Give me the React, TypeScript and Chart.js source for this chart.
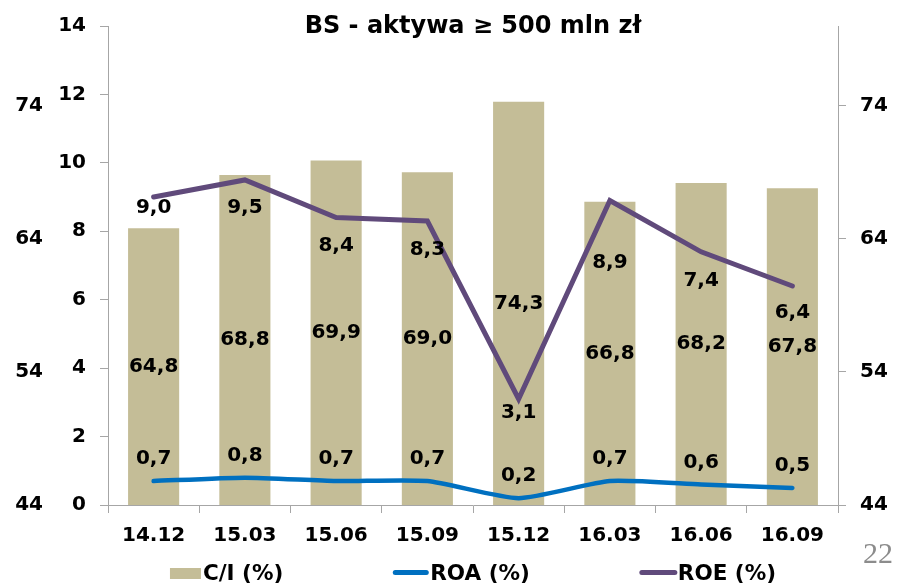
import React, { useEffect, useRef } from 'react';
import { Chart, registerables } from 'chart.js';

Chart.register(...registerables);

// ---- data ----
const categories = ['14.12', '15.03', '15.06', '15.09', '15.12', '16.03', '16.06', '16.09'];
const ciValues = [64.8, 68.8, 69.9, 69.0, 74.3, 66.8, 68.2, 67.8];
const roaValues = [0.7, 0.8, 0.7, 0.7, 0.2, 0.7, 0.6, 0.5];
const roeValues = [9.0, 9.5, 8.4, 8.3, 3.1, 8.9, 7.4, 6.4];
const leftTicks = [0, 2, 4, 6, 8, 10, 12, 14];
const ciTicks = [44, 54, 64, 74];
const seriesLabels = ['C/I (%)', 'ROA (%)', 'ROE (%)'];
const titleText = 'BS - aktywa \u2265 500 mln z\u0142';
const pageNumber = '22';

// ---- style ----
const FONT = '"DejaVu Sans", Verdana, sans-serif';
const BAR_COLOR = '#C4BD97';
const ROA_COLOR = '#0070C0';
const ROE_COLOR = '#604A7B';
const AXIS_COLOR = '#A6A6A6';
// vertical nudges of the ROE value labels below their points (px)
const roeLabelDy = [11, 28, 28, 29, 14, 62, 29, 27];
const roaLabelDy = -22;

const fmt = (v: number) => v.toFixed(1).replace('.', ',');

const overlayPlugin = {
  id: 'overlay',
  afterDatasetsDraw(chart: any) {
    const ctx = chart.ctx;
    ctx.save();
    ctx.fillStyle = '#000';
    ctx.textAlign = 'center';
    ctx.textBaseline = 'middle';
    ctx.font = `bold 20px ${FONT}`;
    const ciScale = chart.scales.yCI;
    const barMeta = chart.getDatasetMeta(0);
    barMeta.data.forEach((el: any, i: number) => {
      const top = ciScale.getPixelForValue(ciValues[i]);
      const base = ciScale.getPixelForValue(ciScale.min);
      ctx.fillText(fmt(ciValues[i]), el.x, (top + base) / 2);
    });
    const roaMeta = chart.getDatasetMeta(1);
    roaMeta.data.forEach((el: any, i: number) => {
      ctx.fillText(fmt(roaValues[i]), el.x, el.y + roaLabelDy);
    });
    const roeMeta = chart.getDatasetMeta(2);
    roeMeta.data.forEach((el: any, i: number) => {
      ctx.fillText(fmt(roeValues[i]), el.x, el.y + roeLabelDy[i]);
    });
    ctx.restore();
  },
  afterDraw(chart: any) {
    const ctx = chart.ctx;
    const area = chart.chartArea;
    const cx = (area.left + area.right) / 2;
    ctx.save();
    // title
    ctx.fillStyle = '#000';
    ctx.font = `bold 24px ${FONT}`;
    ctx.textAlign = 'center';
    ctx.textBaseline = 'alphabetic';
    ctx.fillText(titleText, cx, 33);

    // legend
    ctx.font = `bold 21.5px ${FONT}`;
    ctx.textAlign = 'left';
    const baseY = 580;
    const items = [
      { kind: 'box', color: BAR_COLOR, sw: 31, gap: 2 },
      { kind: 'line', color: ROA_COLOR, sw: 35, gap: 2 },
      { kind: 'line', color: ROE_COLOR, sw: 37, gap: 1 },
    ];
    const spacing = 110;
    const widths = items.map((it, i) => it.sw + it.gap + ctx.measureText(seriesLabels[i]).width);
    const total = widths.reduce((a, b) => a + b, 0) + spacing * (items.length - 1);
    let x = cx - total / 2;
    items.forEach((it, i) => {
      if (it.kind === 'box') {
        ctx.fillStyle = it.color;
        ctx.fillRect(x, 568, it.sw, 11);
      } else {
        ctx.strokeStyle = it.color;
        ctx.lineWidth = 5;
        ctx.lineCap = 'round';
        ctx.beginPath();
        ctx.moveTo(x + 2, 572.5);
        ctx.lineTo(x + it.sw - 2, 572.5);
        ctx.stroke();
      }
      ctx.fillStyle = '#000';
      ctx.fillText(seriesLabels[i], x + it.sw + it.gap, baseY);
      x += widths[i] + spacing;
    });

    // page number
    ctx.font = `30px "Liberation Serif", "DejaVu Serif", serif`;
    ctx.fillStyle = '#8C8C8C';
    ctx.textAlign = 'right';
    ctx.fillText(pageNumber, 893, 563);
    ctx.restore();
  },
};

export default function App() {
  const canvasRef = useRef<HTMLCanvasElement | null>(null);

  useEffect(() => {
    if (!canvasRef.current) return;
    const tickFont = { family: FONT, size: 20, weight: 'bold' as const };
    const chart = new Chart(canvasRef.current, {
      type: 'bar',
      data: {
        labels: categories,
        datasets: [
          {
            type: 'bar',
            label: seriesLabels[0],
            data: ciValues,
            backgroundColor: BAR_COLOR,
            yAxisID: 'yCI',
            categoryPercentage: 0.56,
            barPercentage: 1,
            order: 3,
          },
          {
            type: 'line',
            label: seriesLabels[1],
            data: roaValues,
            borderColor: ROA_COLOR,
            backgroundColor: ROA_COLOR,
            borderWidth: 4.5,
            pointRadius: 0,
            tension: 0.2,
            borderCapStyle: 'round',
            yAxisID: 'y',
            order: 2,
          },
          {
            type: 'line',
            label: seriesLabels[2],
            data: roeValues,
            borderColor: ROE_COLOR,
            backgroundColor: ROE_COLOR,
            borderWidth: 5,
            pointRadius: 0,
            tension: 0,
            borderCapStyle: 'round',
            yAxisID: 'y',
            order: 1,
          },
        ] as any,
      },
      options: {
        animation: false,
        responsive: true,
        maintainAspectRatio: false,
        layout: { padding: { top: 25, left: 0, right: 0, bottom: 0 } },
        plugins: {
          legend: { display: false },
          title: { display: false },
          tooltip: { enabled: false },
        },
        scales: {
          x: {
            type: 'category',
            offset: true,
            grid: {
              display: true,
              drawOnChartArea: false,
              drawTicks: true,
              tickLength: 8,
              color: AXIS_COLOR,
              offset: true,
            },
            border: { display: true, color: AXIS_COLOR },
            ticks: { font: tickFont, color: '#000', padding: 11, maxRotation: 0, autoSkip: false },
            afterFit: (s: any) => { s.height = 79; },
          },
          yOuter: {
            type: 'linear',
            position: 'left',
            weight: 2,
            min: 44,
            max: 80,
            afterBuildTicks: (s: any) => { s.ticks = ciTicks.map((v) => ({ value: v })); },
            grid: { display: false, drawTicks: false, drawOnChartArea: false },
            border: { display: false },
            ticks: { font: tickFont, color: '#000', padding: 5, callback: (v: any) => String(v) },
            afterFit: (s: any) => { s.width = 48; },
          },
          y: {
            type: 'linear',
            position: 'left',
            weight: 1,
            min: 0,
            max: 14,
            afterBuildTicks: (s: any) => { s.ticks = leftTicks.map((v) => ({ value: v })); },
            grid: { display: true, drawOnChartArea: false, drawTicks: true, tickLength: 8, color: AXIS_COLOR },
            border: { display: true, color: AXIS_COLOR },
            ticks: { font: tickFont, color: '#000', padding: 14, callback: (v: any) => String(v) },
            afterFit: (s: any) => { s.width = 60; },
          },
          yCI: {
            type: 'linear',
            position: 'right',
            min: 44,
            max: 80,
            afterBuildTicks: (s: any) => { s.ticks = ciTicks.map((v) => ({ value: v })); },
            grid: { display: true, drawOnChartArea: false, drawTicks: true, tickLength: 8, color: AXIS_COLOR },
            border: { display: true, color: AXIS_COLOR },
            ticks: { font: tickFont, color: '#000', padding: 14, callback: (v: any) => String(v) },
            afterFit: (s: any) => { s.width = 67; },
          },
        },
      } as any,
      plugins: [overlayPlugin],
    });
    return () => chart.destroy();
  }, []);

  return (
    <div style={{ position: 'fixed', left: 0, top: 0, width: 905, height: 584, background: '#fff' }}>
      <canvas ref={canvasRef} />
    </div>
  );
}
